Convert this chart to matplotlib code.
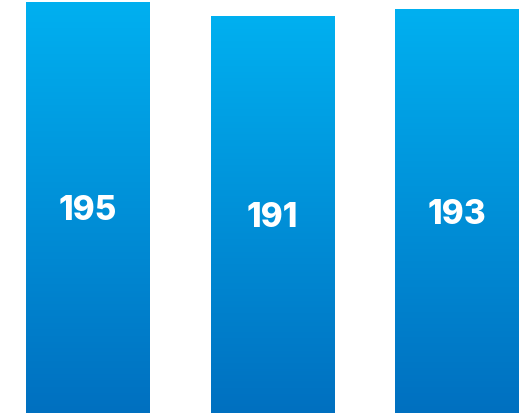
import matplotlib.pyplot as plt
import numpy as np
from matplotlib.colors import LinearSegmentedColormap

# three bars with a vertical blue gradient and the value written inside
categories = ["A", "B", "C"]
values = [195, 191, 193]

fig = plt.figure(figsize=(5.26, 4.14), dpi=100)
ax = fig.add_axes([0, 0, 1, 1])

ymin, ymax = 77.6, 195.86
xlim = (-0.477, 2.374)
ax.axis("off")

cmap = LinearSegmentedColormap.from_list("blues", ["#0070C0", "#00B0F0"])
grad = np.linspace(0, 1, 256).reshape(-1, 1)

x = np.arange(len(categories))
bars = ax.bar(x, [v - ymin for v in values], bottom=ymin, width=0.672,
              color="none", edgecolor="none")

for bar, v in zip(bars, values):
    x0 = bar.get_x()
    x1 = x0 + bar.get_width()
    im = ax.imshow(grad, cmap=cmap, origin="lower", aspect="auto",
                   extent=[x0, x1, ymin, v], zorder=1)
    im.set_clip_path(bar)
    ax.text(bar.get_x() + bar.get_width() / 2, (v + ymin) / 2 - 0.8, str(v),
            ha="center", va="center", color="white", fontsize=24,
            fontweight="heavy", family="Inter", zorder=2)

ax.set_xlim(*xlim)
ax.set_ylim(ymin, ymax)

fig.savefig("out.png", dpi=100)
